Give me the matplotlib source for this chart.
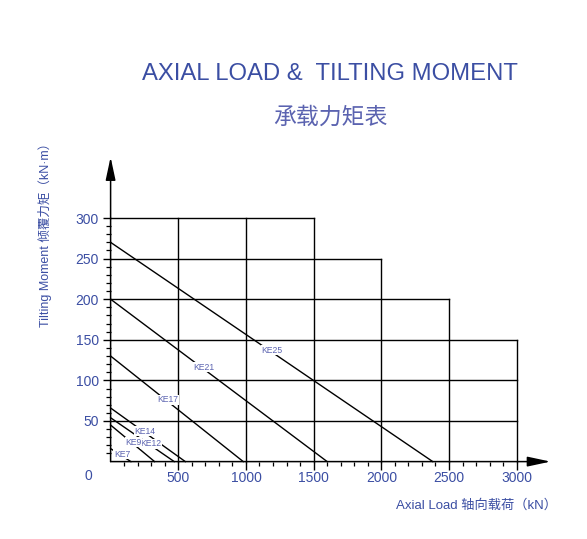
import matplotlib
matplotlib.use("Agg")
import matplotlib.pyplot as plt
import numpy as np

# ---- data ----
models = ["KE7", "KE9", "KE12", "KE14", "KE17", "KE21", "KE25"]
moment_at_zero = [16, 45, 54, 66, 130, 200, 270]     # kN·m at zero axial load
load_at_zero = [150, 325, 470, 552, 980, 1600, 2380]  # kN at zero moment
label_frac = [0.56, 0.52, 0.63, 0.46, 0.43, 0.43, 0.50]

grid_y = [50, 100, 150, 200, 250, 300]
grid_y_xmax = [3000, 3000, 3000, 2500, 2000, 1500]
grid_x = [500, 1000, 1500, 2000, 2500, 3000]
grid_x_ymax = [300, 300, 300, 250, 200, 150]

x_ticks = [500, 1000, 1500, 2000, 2500, 3000]
y_ticks = [50, 100, 150, 200, 250, 300]

BLUE = "#3b4ea3"
LBLUE = "#5b63b0"
FONT = ["Liberation Sans", "Noto Sans CJK SC"]
plt.rcParams["font.family"] = FONT

W, H = 587, 539
fig = plt.figure(figsize=(W / 100, H / 100), dpi=100)

x0_px, y0_px = 110.6, 461.6
sx, sy = 0.13536, 0.812
xmax, ymax = 3260, 380
ax = fig.add_axes([x0_px / W, (H - y0_px) / H, xmax * sx / W, ymax * sy / H])
ax.set_xlim(0, xmax)
ax.set_ylim(0, ymax)
for s in ax.spines.values():
    s.set_visible(False)
ax.patch.set_visible(False)

# ticks
ax.set_xticks(x_ticks)
ax.set_xticklabels([str(v) for v in x_ticks])
ax.set_xticks(np.arange(100, 3001, 100), minor=True)
ax.set_yticks(y_ticks)
ax.set_yticklabels([str(v) for v in y_ticks])
ax.set_yticks(np.arange(10, 301, 10), minor=True)
ax.tick_params(axis="x", which="major", direction="out", length=5.8, width=1.0,
               pad=1.0, labelsize=10, labelcolor=BLUE, color="black")
ax.tick_params(axis="x", which="minor", direction="out", length=3.0, width=0.9, color="black")
ax.tick_params(axis="y", which="major", direction="out", length=5.8, width=1.0,
               pad=2.5, labelsize=10, labelcolor=BLUE, color="black")
ax.tick_params(axis="y", which="minor", direction="out", length=3.6, width=0.9, color="black")

# staircase grid
for yv, xm in zip(grid_y, grid_y_xmax):
    ax.plot([0, xm], [yv, yv], color="black", lw=1.0, clip_on=False)
for xv, ym in zip(grid_x, grid_x_ymax):
    ax.plot([xv, xv], [0, ym], color="black", lw=1.0, clip_on=False)

# axes with arrows
ax.annotate("", xy=(3250, 0), xytext=(0, 0), xycoords="data",
            arrowprops=dict(arrowstyle="-|>,head_length=1.4,head_width=0.3",
                            color="black", lw=1.1, shrinkA=0, shrinkB=0),
            annotation_clip=False)
ax.annotate("", xy=(0, 375), xytext=(0, 0), xycoords="data",
            arrowprops=dict(arrowstyle="-|>,head_length=1.4,head_width=0.3",
                            color="black", lw=1.1, shrinkA=0, shrinkB=0),
            annotation_clip=False)

# load lines
for i, (name, m0, l0, f) in enumerate(zip(models, moment_at_zero, load_at_zero, label_frac)):
    ax.plot([0, l0], [m0, 0], color="black", lw=1.0, clip_on=False, zorder=3)
    ax.text(l0 * f, m0 * (1 - f) + 2, name, fontsize=6.2, color=LBLUE,
            ha="center", va="center", zorder=10 - i * 0.1,
            bbox=dict(facecolor="white", edgecolor="none", pad=0.4))

# origin label
fig.text(88 / W, 1 - 476 / H, "0", fontsize=10, color=BLUE, ha="center", va="center")

# titles
fig.text(330 / W, 1 - 74 / H, "AXIAL LOAD &  TILTING MOMENT", fontsize=17.2,
         color=BLUE, ha="center", va="center", family=FONT)
fig.text(330 / W, 1 - 117 / H, "承载力矩表", fontsize=16.5,
         color=LBLUE, ha="center", va="center", family=["Noto Sans CJK SC"])

# axis labels
fig.text(477 / W, 1 - 505 / H, "Axial Load 轴向载荷（kN）", fontsize=9.5,
         color=BLUE, ha="center", va="center", family=FONT)
fig.text(45 / W, 1 - 232 / H, "Tilting Moment 倾覆力矩（kN·m）", fontsize=9,
         color=BLUE, ha="center", va="center", rotation=90, family=FONT)

fig.savefig("out.png", dpi=100)
